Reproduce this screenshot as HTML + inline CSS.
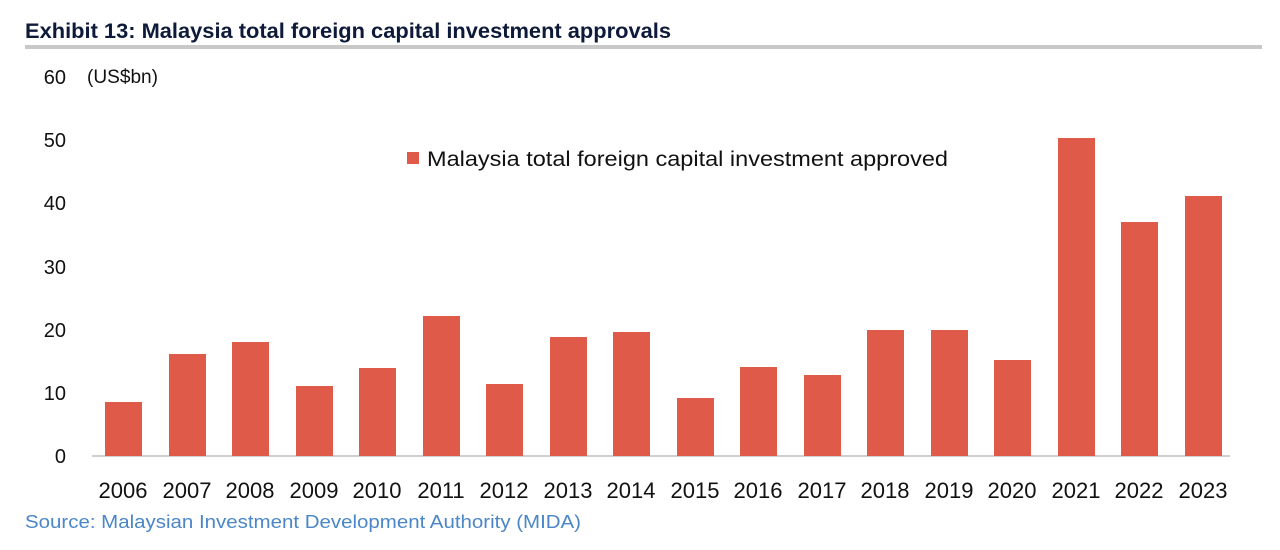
<!DOCTYPE html>
<html><head><meta charset="utf-8"><style>
body{margin:0;background:#fff;width:1280px;height:545px;overflow:hidden;font-family:"Liberation Sans",Arial,sans-serif;}
</style></head><body>
<svg width="1280" height="545" xmlns="http://www.w3.org/2000/svg" font-family="Liberation Sans, Arial, sans-serif">
<text x="25" y="38" font-size="21" font-weight="bold" fill="#0e1a3a" textLength="646" lengthAdjust="spacingAndGlyphs">Exhibit 13: Malaysia total foreign capital investment approvals</text>
<rect x="25" y="45" width="1237" height="4" fill="#c8c8c8"/>
<g font-size="20" fill="#111" text-anchor="end">
<text x="66" y="84">60</text>
<text x="66" y="147">50</text>
<text x="66" y="210">40</text>
<text x="66" y="274">30</text>
<text x="66" y="337">20</text>
<text x="66" y="400">10</text>
<text x="66" y="463">0</text>
</g>
<text x="87" y="83" font-size="19" fill="#111" textLength="71" lengthAdjust="spacingAndGlyphs">(US$bn)</text>
<line x1="92" y1="456" x2="1230" y2="456" stroke="#bfbfbf" stroke-width="1.5"/>
<g fill="#e05a4a">
<rect x="105" y="402" width="37" height="54"/>
<rect x="169" y="354" width="37" height="102"/>
<rect x="232" y="342" width="37" height="114"/>
<rect x="296" y="386" width="37" height="70"/>
<rect x="359" y="368" width="37" height="88"/>
<rect x="423" y="316" width="37" height="140"/>
<rect x="486" y="384" width="37" height="72"/>
<rect x="550" y="337" width="37" height="119"/>
<rect x="613" y="332" width="37" height="124"/>
<rect x="677" y="398" width="37" height="58"/>
<rect x="740" y="367" width="37" height="89"/>
<rect x="804" y="375" width="37" height="81"/>
<rect x="867" y="330" width="37" height="126"/>
<rect x="931" y="330" width="37" height="126"/>
<rect x="994" y="360" width="37" height="96"/>
<rect x="1058" y="138" width="37" height="318"/>
<rect x="1121" y="222" width="37" height="234"/>
<rect x="1185" y="196" width="37" height="260"/>
<rect x="407" y="152" width="12" height="12"/>
</g>
<text x="427" y="166" font-size="21" fill="#111" textLength="521" lengthAdjust="spacingAndGlyphs">Malaysia total foreign capital investment approved</text>
<g font-size="22" fill="#111" text-anchor="middle">
<text x="123" y="498">2006</text><text x="187" y="498">2007</text><text x="250" y="498">2008</text>
<text x="314" y="498">2009</text><text x="377" y="498">2010</text><text x="441" y="498">2011</text>
<text x="504" y="498">2012</text><text x="568" y="498">2013</text><text x="631" y="498">2014</text>
<text x="695" y="498">2015</text><text x="758" y="498">2016</text><text x="822" y="498">2017</text>
<text x="885" y="498">2018</text><text x="949" y="498">2019</text><text x="1012" y="498">2020</text>
<text x="1076" y="498">2021</text><text x="1139" y="498">2022</text><text x="1203" y="498">2023</text>
</g>
<text x="25" y="528" font-size="18" fill="#4a86c8" textLength="556" lengthAdjust="spacingAndGlyphs">Source: Malaysian Investment Development Authority (MIDA)</text>
</svg>
</body></html>
